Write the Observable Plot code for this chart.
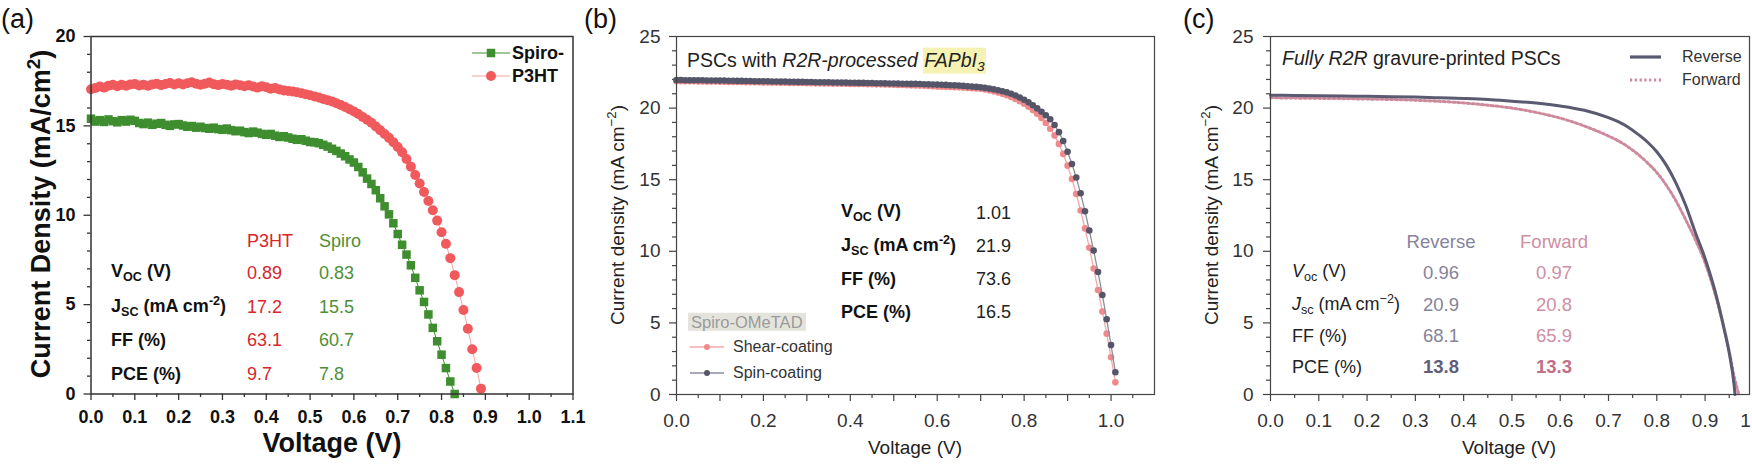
<!DOCTYPE html>
<html><head><meta charset="utf-8">
<script src="https://cdn.jsdelivr.net/npm/d3@7"></script>
<script src="https://cdn.jsdelivr.net/npm/@observablehq/plot@0.6"></script>
<style>
html,body{margin:0;padding:0;background:#fff;}
#root{position:relative;width:1752px;height:464px;overflow:hidden;background:#fff;font-family:"Liberation Sans",Arial,sans-serif;color:#222;}
.t{position:absolute;white-space:nowrap;line-height:1;}
.sub{font-size:0.7em;vertical-align:-0.3em;}
.sup{font-size:0.7em;vertical-align:0.55em;}
</style></head>
<body><div id="root"></div>
<script>
// ---------- Panel (a) data ----------
const voltsP3HT = [0.00,0.01,0.02,0.03,0.04,0.05,0.06,0.07,0.08,0.09,
  0.10,0.11,0.12,0.13,0.14,0.15,0.16,0.17,0.18,0.19,
  0.20,0.21,0.22,0.23,0.24,0.25,0.26,0.27,0.28,0.29,
  0.30,0.31,0.32,0.33,0.34,0.35,0.36,0.37,0.38,0.39,
  0.40,0.41,0.42,0.43,0.44,0.45,0.46,0.47,0.48,0.49,
  0.50,0.51,0.52,0.53,0.54,0.55,0.56,0.57,0.58,0.59,
  0.60,0.61,0.62,0.63,0.64,0.65,0.66,0.67,0.68,0.69,
  0.70,0.71,0.72,0.73,0.74,0.75,0.76,0.77,0.78,0.79,
  0.80,0.81,0.82,0.83,0.84,0.85,0.86,0.87,0.88,0.89];
const jP3HT = [17.05,17.12,17.20,17.14,17.25,17.30,17.22,17.30,17.24,17.32,
  17.34,17.26,17.30,17.24,17.32,17.36,17.28,17.34,17.40,17.31,
  17.38,17.32,17.38,17.44,17.36,17.30,17.36,17.42,17.33,17.28,
  17.34,17.30,17.24,17.32,17.27,17.22,17.27,17.20,17.14,17.21,
  17.16,17.08,17.12,17.04,16.98,16.95,16.93,16.88,16.83,16.77,
  16.71,16.65,16.59,16.51,16.44,16.36,16.27,16.17,16.06,15.93,
  15.80,15.66,15.50,15.34,15.17,14.97,14.76,14.55,14.33,14.08,
  13.82,13.52,13.15,12.72,12.25,11.78,11.30,10.80,10.28,9.70,
  9.05,8.40,7.60,6.65,5.70,4.70,3.65,2.50,1.45,0.30];
const voltsSpiro = [0.00,0.01,0.02,0.03,0.04,0.05,0.06,0.07,0.08,0.09,
  0.10,0.11,0.12,0.13,0.14,0.15,0.16,0.17,0.18,0.19,
  0.20,0.21,0.22,0.23,0.24,0.25,0.26,0.27,0.28,0.29,
  0.30,0.31,0.32,0.33,0.34,0.35,0.36,0.37,0.38,0.39,
  0.40,0.41,0.42,0.43,0.44,0.45,0.46,0.47,0.48,0.49,
  0.50,0.51,0.52,0.53,0.54,0.55,0.56,0.57,0.58,0.59,
  0.60,0.61,0.62,0.63,0.64,0.65,0.66,0.67,0.68,0.69,
  0.70,0.71,0.72,0.73,0.74,0.75,0.76,0.77,0.78,0.79,
  0.80,0.81,0.82,0.83];
const jSpiro = [15.40,15.24,15.32,15.22,15.36,15.26,15.20,15.32,15.24,15.34,
  15.28,15.16,15.10,15.18,15.06,15.12,15.16,15.06,15.00,15.08,
  15.10,15.02,14.95,14.99,14.90,14.95,14.88,14.84,14.90,14.82,
  14.78,14.85,14.76,14.70,14.73,14.65,14.60,14.68,14.62,14.55,
  14.50,14.55,14.45,14.38,14.42,14.35,14.28,14.22,14.25,14.17,
  14.10,14.08,14.03,13.94,13.84,13.72,13.60,13.45,13.30,13.12,
  12.95,12.70,12.40,12.05,11.75,11.40,10.95,10.50,10.05,9.55,
  8.95,8.35,7.80,7.20,6.50,5.80,5.15,4.45,3.70,2.95,
  2.20,1.45,0.70,0.00];
const xMajorA = [0,0.1,0.2,0.3,0.4,0.5,0.6,0.7,0.8,0.9,1.0,1.1];
const xMinorA = [0.05,0.15,0.25,0.35,0.45,0.55,0.65,0.75,0.85,0.95,1.05];
const yMajorA = [0,5,10,15,20];
const yMinorA = [1,2,3,4,6,7,8,9,11,12,13,14,16,17,18,19];

// ---------- Panel (b) data ----------
const voltsB = [0.00,0.01,0.02,0.03,0.04,0.05,0.06,0.07,0.08,0.09,
  0.10,0.11,0.12,0.13,0.14,0.15,0.16,0.17,0.18,0.19,
  0.20,0.21,0.22,0.23,0.24,0.25,0.26,0.27,0.28,0.29,
  0.30,0.31,0.32,0.33,0.34,0.35,0.36,0.37,0.38,0.39,
  0.40,0.41,0.42,0.43,0.44,0.45,0.46,0.47,0.48,0.49,
  0.50,0.51,0.52,0.53,0.54,0.55,0.56,0.57,0.58,0.59,
  0.60,0.61,0.62,0.63,0.64,0.65,0.66,0.67,0.68,0.69,
  0.70,0.71,0.72,0.73,0.74,0.75,0.76,0.77,0.78,0.79,
  0.80,0.81,0.82,0.83,0.84,0.85,0.86,0.87,0.88,0.89,
  0.90,0.91,0.92,0.93,0.94,0.95,0.96,0.97,0.98,0.99,
  1.00,1.01];
const jSpin = [21.96,21.96,21.95,21.95,21.95,21.94,21.94,21.93,21.93,21.93,
  21.92,21.92,21.91,21.91,21.90,21.90,21.89,21.89,21.88,21.88,
  21.87,21.87,21.86,21.86,21.85,21.85,21.84,21.84,21.83,21.83,
  21.82,21.82,21.81,21.81,21.80,21.80,21.79,21.79,21.78,21.78,
  21.77,21.77,21.76,21.76,21.75,21.75,21.74,21.74,21.73,21.72,
  21.72,21.71,21.70,21.70,21.69,21.69,21.68,21.67,21.66,21.65,
  21.64,21.63,21.62,21.60,21.59,21.57,21.55,21.52,21.50,21.48,
  21.45,21.41,21.36,21.31,21.25,21.18,21.10,21.00,20.88,20.74,
  20.58,20.40,20.20,19.98,19.75,19.50,19.22,18.82,18.32,17.70,
  16.95,16.10,15.15,14.05,12.80,11.45,10.05,8.55,6.95,5.25,
  3.45,1.55];
const jShear = [21.88,21.88,21.87,21.87,21.87,21.86,21.86,21.85,21.85,21.85,
  21.84,21.84,21.83,21.83,21.82,21.82,21.81,21.81,21.80,21.80,
  21.79,21.79,21.78,21.78,21.77,21.77,21.76,21.76,21.75,21.75,
  21.74,21.74,21.73,21.73,21.72,21.72,21.71,21.71,21.70,21.70,
  21.69,21.69,21.68,21.68,21.67,21.67,21.66,21.66,21.65,21.64,
  21.63,21.62,21.61,21.60,21.59,21.58,21.57,21.56,21.54,21.52,
  21.50,21.49,21.48,21.47,21.46,21.45,21.43,21.41,21.39,21.37,
  21.35,21.30,21.24,21.17,21.09,21.00,20.90,20.78,20.64,20.48,
  20.30,20.10,19.86,19.60,19.30,18.96,18.56,18.08,17.50,16.80,
  15.98,15.05,14.00,12.85,11.60,10.25,8.80,7.30,5.80,4.25,
  2.60,0.85];
const xLabelB = [0,0.2,0.4,0.6,0.8,1.0];
const xMajorB = [0.1,0.3,0.5,0.7,0.9];
const xMinorB = [0.05,0.15,0.25,0.35,0.45,0.55,0.65,0.75,0.85,0.95,1.05];
const yMajorBC = [0,5,10,15,20,25];
const yMinorBC = [1,2,3,4,6,7,8,9,11,12,13,14,16,17,18,19,21,22,23,24];

// ---------- Panel (c) data ----------
const voltsRev = [0,0.05,0.10,0.15,0.20,0.25,0.30,0.35,0.40,0.45,0.50,0.55,0.60,0.65,0.70,0.72,0.74,0.76,0.78,0.80,0.82,0.84,0.86,0.88,0.90,0.92,0.94,0.95,0.96,0.962];
const jRev = [20.90,20.88,20.86,20.84,20.82,20.80,20.77,20.72,20.67,20.60,20.48,20.35,20.15,19.85,19.33,19.05,18.68,18.20,17.65,16.95,16.00,14.75,13.20,11.30,9.50,7.30,4.50,2.90,0.70,0];
const voltsFwd = [0,0.05,0.10,0.15,0.20,0.25,0.30,0.35,0.40,0.45,0.50,0.55,0.60,0.65,0.70,0.72,0.74,0.76,0.78,0.80,0.82,0.84,0.86,0.88,0.90,0.92,0.94,0.95,0.96,0.97];
const jFwd = [20.72,20.70,20.68,20.66,20.63,20.60,20.55,20.47,20.36,20.20,20.00,19.70,19.30,18.75,18.05,17.72,17.30,16.80,16.20,15.50,14.60,13.50,12.20,10.80,9.20,7.10,4.50,3.00,1.30,0];
const xLabelC = [0,0.1,0.2,0.3,0.4,0.5,0.6,0.7,0.8,0.9,1.0];
const xMinorC = [0.05,0.15,0.25,0.35,0.45,0.55,0.65,0.75,0.85,0.95];

// ---------- helpers ----------
const root = document.getElementById("root");
const zip = (xs, ys) => xs.map((v, i) => ({v, j: ys[i]}));
const FONT = "Liberation Sans, Arial, sans-serif";
function mount(svg, left) {
  svg.style.position = "absolute"; svg.style.left = left + "px"; svg.style.top = "0px";
  svg.style.overflow = "visible"; svg.style.background = "transparent"; svg.style.maxWidth = "none";
  root.appendChild(svg);
}
function txt(html, x, y, css = {}, anchor = "left", rotate = null) {
  const d = document.createElement("div");
  d.className = "t";
  d.innerHTML = html;
  Object.assign(d.style, {left: x + "px", top: y + "px"}, css);
  const tx = anchor === "left" ? "0" : anchor === "right" ? "-100%" : "-50%";
  d.style.transform = `translate(${tx},-50%)` + (rotate ? ` rotate(${rotate})` : "");
  root.appendChild(d);
  return d;
}
function swatch(x, y, w, color, width, dash, marker, mcolor, msize) {
  const ns = "http://www.w3.org/2000/svg";
  const s = document.createElementNS(ns, "svg");
  s.setAttribute("width", w); s.setAttribute("height", 14);
  s.style.position = "absolute"; s.style.left = x + "px"; s.style.top = (y - 7) + "px";
  let inner = `<line x1="0" x2="${w}" y1="7" y2="7" stroke="${color}" stroke-width="${width}" ${dash ? `stroke-dasharray="${dash}"` : ""}/>`;
  if (marker === "square") inner += `<rect x="${w/2 - msize/2}" y="${7 - msize/2}" width="${msize}" height="${msize}" fill="${mcolor}"/>`;
  if (marker === "circle") inner += `<circle cx="${w/2}" cy="7" r="${msize}" fill="${mcolor}"/>`;
  s.innerHTML = inner;
  root.appendChild(s);
}

// ---------- Panel (a) ----------
const p3ht = zip(voltsP3HT, jP3HT);
const spiro = zip(voltsSpiro, jSpiro);
const RED = "#f05a5c", GREEN = "#3e8e30";
const plotA = Plot.plot({
  width: 590, height: 464, marginLeft: 90.5, marginRight: 17.5, marginTop: 36, marginBottom: 70.5,
  style: {fontFamily: FONT, background: "transparent", overflow: "visible"},
  x: {domain: [0, 1.1]}, y: {domain: [0, 20]},
  marks: [
    Plot.axisX({ticks: xMinorA, tickSize: 3.5, fill: "none", stroke: "#333", strokeWidth: 1.3, label: null}),
    Plot.axisX({ticks: xMajorA, tickSize: 6.5, tickPadding: 10, tickFormat: d => d.toFixed(1), fontSize: 18, fontWeight: "bold", fill: "#111", stroke: "#333", strokeWidth: 1.3, label: null}),
    Plot.axisY({ticks: yMinorA, tickSize: 3.5, fill: "none", stroke: "#333", strokeWidth: 1.3, label: null}),
    Plot.axisY({ticks: yMajorA, tickSize: 7, tickPadding: 8.5, fontSize: 18, fontWeight: "bold", fill: "#111", stroke: "#333", strokeWidth: 1.3, label: null}),
    Plot.line(p3ht, {x: "v", y: "j", stroke: "#f4a3a3", strokeWidth: 1}),
    Plot.dot(p3ht, {x: "v", y: "j", r: 5, fill: RED}),
    Plot.line(spiro, {x: "v", y: "j", stroke: GREEN, strokeWidth: 1}),
    Plot.dot(spiro, {x: "v", y: "j", r: 4.8, symbol: "square", fill: GREEN}),
    Plot.frame({stroke: "#333", strokeWidth: 1.5})
  ]
});
mount(plotA, 0);

// ---------- Panel (b) ----------
const spin = zip(voltsB, jSpin);
const shear = zip(voltsB, jShear);
const AX = "#444";
const plotB = Plot.plot({
  width: 580, height: 464, marginLeft: 86, marginRight: 16, marginTop: 36, marginBottom: 70,
  style: {fontFamily: FONT, background: "transparent", overflow: "visible"},
  x: {domain: [0, 1.1]}, y: {domain: [0, 25]},
  marks: [
    Plot.axisX({ticks: xMinorB, tickSize: 4, fill: "none", stroke: AX, strokeWidth: 1.2, label: null}),
    Plot.axisX({ticks: xMajorB, tickSize: 7, fill: "none", stroke: AX, strokeWidth: 1.2, label: null}),
    Plot.axisX({ticks: xLabelB, tickSize: 7, tickPadding: 12, tickFormat: d => d.toFixed(1), fontSize: 19, fill: "#333", stroke: AX, strokeWidth: 1.2, label: null}),
    Plot.axisY({ticks: yMinorBC, tickSize: 4, fill: "none", stroke: AX, strokeWidth: 1.2, label: null}),
    Plot.axisY({ticks: yMajorBC, tickSize: 7, tickPadding: 9, fontSize: 19, fill: "#333", stroke: AX, strokeWidth: 1.2, label: null}),
    Plot.line(shear, {x: "v", y: "j", stroke: "#f3a9a9", strokeWidth: 1.3}),
    Plot.dot(shear, {x: "v", y: "j", r: 3.3, fill: "#ef8a8c"}),
    Plot.line(spin, {x: "v", y: "j", stroke: "#8d8d9d", strokeWidth: 1.3}),
    Plot.dot(spin, {x: "v", y: "j", r: 3.3, fill: "#55556a"}),
    Plot.frame({stroke: AX, strokeWidth: 1.2})
  ]
});
mount(plotB, 590);

// ---------- Panel (c) ----------
const rev = zip(voltsRev, jRev);
const fwd = zip(voltsFwd, jFwd);
const REV = "#5a5a70", FWD = "#cc8a9c";
const plotC = Plot.plot({
  width: 582, height: 464, marginLeft: 100, marginRight: 3, marginTop: 36, marginBottom: 70,
  style: {fontFamily: FONT, background: "transparent", overflow: "visible"},
  x: {domain: [0, 0.992]}, y: {domain: [0, 25]},
  marks: [
    Plot.axisX({ticks: xMinorC, tickSize: 4, fill: "none", stroke: AX, strokeWidth: 1.2, label: null}),
    Plot.axisX({ticks: xLabelC, tickSize: 7, tickPadding: 12, tickFormat: d => d.toFixed(1), fontSize: 19, fill: "#333", stroke: AX, strokeWidth: 1.2, label: null}),
    Plot.axisY({ticks: yMinorBC, tickSize: 4, fill: "none", stroke: AX, strokeWidth: 1.2, label: null}),
    Plot.axisY({ticks: yMajorBC, tickSize: 7, tickPadding: 10, fontSize: 19, fill: "#333", stroke: AX, strokeWidth: 1.2, label: null}),
    Plot.line(fwd, {x: "v", y: "j", stroke: FWD, strokeWidth: 3, strokeDasharray: "2.2,2.6", curve: "monotone-x"}),
    Plot.line(rev, {x: "v", y: "j", stroke: REV, strokeWidth: 3, curve: "monotone-x"}),
    Plot.frame({stroke: AX, strokeWidth: 1.2})
  ]
});
mount(plotC, 1170);

// ---------- Text: panel (a) ----------
txt("(a)", 1, 19, {fontSize: "27px", color: "#111"});
txt("Current Density (mA/cm<span class='sup'>2</span>)", 40, 214, {fontSize: "27px", fontWeight: "bold", color: "#111"}, "center", "-90deg");
txt("Voltage (V)", 332, 443, {fontSize: "27px", fontWeight: "bold", color: "#111"}, "center");
swatch(472, 52.7, 38, GREEN, 1.2, null, "square", GREEN, 8.5);
swatch(472, 75.5, 38, "#f4a3a3", 1.2, null, "circle", RED, 5);
txt("Spiro-", 512, 52.7, {fontSize: "18px", fontWeight: "bold", color: "#111"});
txt("P3HT", 512, 75.5, {fontSize: "18px", fontWeight: "bold", color: "#111"});
const TRED = "#d9262b", TGREEN = "#4f8f36";
txt("P3HT", 247, 240.7, {fontSize: "18px", color: TRED});
txt("Spiro", 319, 240.7, {fontSize: "18px", color: TGREEN});
const rowsA = [
  ["V<span class='sub'>OC</span> (V)", "0.89", "0.83", 273.3],
  ["J<span class='sub'>SC</span> (mA cm<span class='sup'>-2</span>)", "17.2", "15.5", 307.3],
  ["FF (%)", "63.1", "60.7", 340],
  ["PCE (%)", "9.7", "7.8", 374]
];
for (const [lab, a, b, y] of rowsA) {
  txt(lab, 111, y, {fontSize: "18px", fontWeight: "bold", color: "#111"});
  txt(a, 247, y, {fontSize: "18px", color: TRED});
  txt(b, 319, y, {fontSize: "18px", color: TGREEN});
}

// ---------- Text: panel (b) ----------
txt("(b)", 584, 19, {fontSize: "27px", color: "#111"});
txt("Current density (mA cm<span class='sup'>−2</span>)", 616, 215, {fontSize: "19px", color: "#222"}, "center", "-90deg");
txt("Voltage (V)", 915, 447, {fontSize: "19px", color: "#222"}, "center");
txt("PSCs with <i>R2R-processed</i> <span style='background:#f6f2b4;padding:1px 1px 3px 1px'><i>FAPbI<span class='sub'>3</span></i></span>", 687, 62, {fontSize: "19.5px", color: "#222"});
const rowsB = [
  ["V<span class='sub'>OC</span> (V)", "1.01", 213],
  ["J<span class='sub'>SC</span> (mA cm<span class='sup'>-2</span>)", "21.9", 245.5],
  ["FF (%)", "73.6", 279],
  ["PCE (%)", "16.5", 312]
];
for (const [lab, v, y] of rowsB) {
  txt(lab, 841, y, {fontSize: "18px", fontWeight: "bold", color: "#111"});
  txt(v, 976, y, {fontSize: "18px", color: "#222"});
}
txt("Spiro-OMeTAD", 688, 321.5, {fontSize: "16.5px", color: "#9a9a9a", background: "#e4e4dd", padding: "1px 3px"});
swatch(690, 347, 34, "#f3a9a9", 1.4, null, "circle", "#ef8a8c", 3);
swatch(690, 372.7, 34, "#8d8d9d", 1.4, null, "circle", "#55556a", 3);
txt("Shear-coating", 733, 347, {fontSize: "16px", color: "#333"});
txt("Spin-coating", 733, 372.7, {fontSize: "16px", color: "#333"});

// ---------- Text: panel (c) ----------
txt("(c)", 1183, 19, {fontSize: "27px", color: "#111"});
txt("Current density (mA cm<span class='sup'>−2</span>)", 1210, 215, {fontSize: "19px", color: "#222"}, "center", "-90deg");
txt("Voltage (V)", 1509, 447, {fontSize: "19px", color: "#222"}, "center");
txt("<i>Fully R2R</i> gravure-printed PSCs", 1282, 59, {fontSize: "19.5px", color: "#222"});
swatch(1630, 56.7, 31, REV, 3.2, null, null);
swatch(1630, 80, 31, FWD, 2.8, "2.2,2.6", null);
txt("Reverse", 1682, 56.7, {fontSize: "16px", color: "#333"});
txt("Forward", 1682, 80, {fontSize: "16px", color: "#333"});
const CREV = "#86839b", CFWD = "#cf8ea2";
txt("Reverse", 1441, 241.7, {fontSize: "18.5px", color: CREV}, "center");
txt("Forward", 1554, 241.7, {fontSize: "18.5px", color: CFWD}, "center");
const rowsC = [
  ["<i>V</i><span class='sub'>oc</span> (V)", "0.96", "0.97", 273.3, false],
  ["<i>J</i><span class='sub'>sc</span> (mA cm<span class='sup'>−2</span>)", "20.9", "20.8", 305, false],
  ["FF (%)", "68.1", "65.9", 336, false],
  ["PCE (%)", "13.8", "13.3", 366.7, true]
];
for (const [lab, a, b, y, bold] of rowsC) {
  txt(lab, 1292, y, {fontSize: "18px", color: "#222"});
  txt(a, 1441, y, {fontSize: "18.5px", color: bold ? "#615e7a" : CREV, fontWeight: bold ? "bold" : "normal"}, "center");
  txt(b, 1554, y, {fontSize: "18.5px", color: bold ? "#bf6f87" : CFWD, fontWeight: bold ? "bold" : "normal"}, "center");
}
</script></body></html>
